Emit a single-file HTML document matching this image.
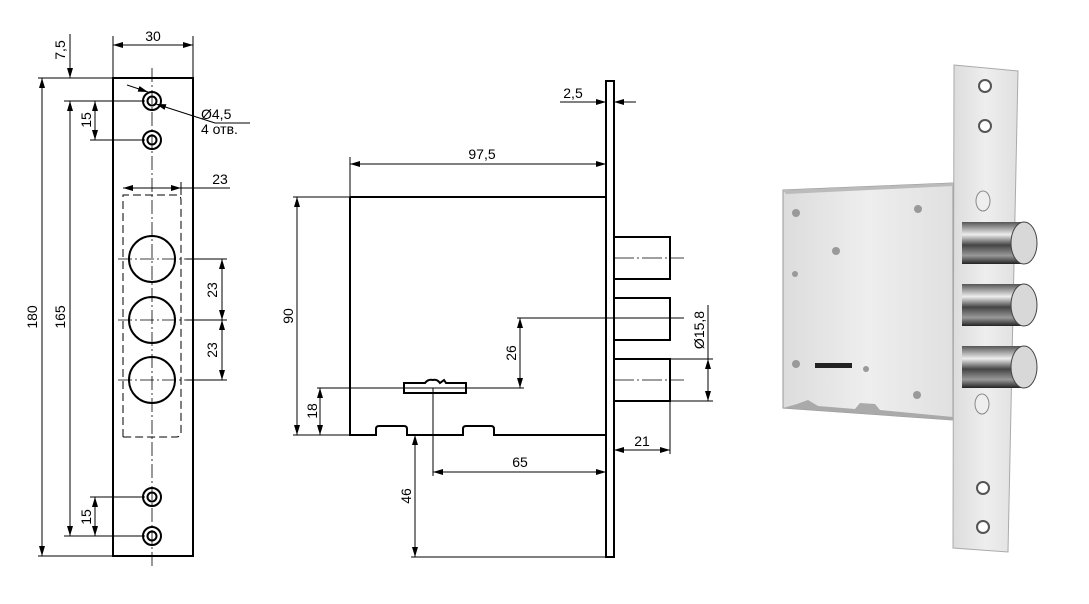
<!DOCTYPE html>
<html><head><meta charset="utf-8"><style>
html,body{margin:0;padding:0;background:#fff;}
svg{display:block;font-family:"Liberation Sans",sans-serif;}
</style></head><body>
<svg width="1089" height="604" viewBox="0 0 1089 604" xmlns="http://www.w3.org/2000/svg">
<defs>
<marker id="a" viewBox="0 0 10 6" refX="10" refY="3" markerWidth="10" markerHeight="6" orient="auto-start-reverse" markerUnits="userSpaceOnUse"><path d="M0,0 L10,3 L0,6 z" fill="#000"/></marker>
<linearGradient id="cyl" x1="0" y1="0" x2="0" y2="1"><stop offset="0" stop-color="#555"/><stop offset="0.3" stop-color="#eee"/><stop offset="0.55" stop-color="#444"/><stop offset="0.8" stop-color="#999"/><stop offset="1" stop-color="#222"/></linearGradient>
<linearGradient id="plate" x1="0" y1="0" x2="1" y2="0"><stop offset="0" stop-color="#dcdcdc"/><stop offset="0.5" stop-color="#eeeeee"/><stop offset="1" stop-color="#e0e0e0"/></linearGradient>
</defs>
<g stroke="#000" fill="none" stroke-width="1" font-size="13">
<rect x="113" y="78" width="80" height="478" stroke-width="2"/>
<line x1="152" y1="68" x2="152" y2="566" stroke-dasharray="14,3,2,3" stroke-width="0.8"/>
<g stroke-width="2"><circle cx="152" cy="101" r="9"/><circle cx="152" cy="101" r="4.5"/>
<circle cx="152" cy="140" r="9"/><circle cx="152" cy="140" r="4.5"/>
<circle cx="152" cy="497" r="9"/><circle cx="152" cy="497" r="4.5"/>
<circle cx="152" cy="536" r="9"/><circle cx="152" cy="536" r="4.5"/>
<circle cx="152" cy="259" r="23"/><circle cx="152" cy="320" r="23"/><circle cx="152" cy="380" r="23"/></g>
<path d="M123,437 V195 H176 Q181,195 181,200 V432 Q181,437 176,437 Z" stroke-dasharray="8,4"/>
<g stroke-dasharray="14,3,2,3" stroke-width="0.8"><line x1="118" y1="259" x2="186" y2="259"/><line x1="118" y1="320" x2="186" y2="320"/><line x1="118" y1="380" x2="186" y2="380"/></g>
<line x1="186" y1="259" x2="227" y2="259"/><line x1="186" y1="320" x2="227" y2="320"/><line x1="186" y1="380" x2="227" y2="380"/>
<line x1="222" y1="259" x2="222" y2="320" marker-start="url(#a)" marker-end="url(#a)"/>
<line x1="222" y1="320" x2="222" y2="380" marker-start="url(#a)" marker-end="url(#a)"/>
<line x1="181" y1="182" x2="181" y2="195"/>
<line x1="123" y1="188" x2="181" y2="188" marker-start="url(#a)" marker-end="url(#a)"/><line x1="181" y1="188" x2="230" y2="188"/>
<line x1="113" y1="36" x2="113" y2="78"/><line x1="193" y1="36" x2="193" y2="78"/>
<line x1="113" y1="45" x2="193" y2="45" marker-start="url(#a)" marker-end="url(#a)"/>
<line x1="38" y1="78" x2="113" y2="78"/><line x1="64" y1="101" x2="145" y2="101"/><line x1="90" y1="140" x2="145" y2="140"/>
<line x1="90" y1="497" x2="145" y2="497"/><line x1="64" y1="536" x2="145" y2="536"/><line x1="38" y1="556" x2="113" y2="556"/>
<line x1="42" y1="78" x2="42" y2="556" marker-start="url(#a)" marker-end="url(#a)"/>
<line x1="70" y1="101" x2="70" y2="536" marker-start="url(#a)" marker-end="url(#a)"/>
<line x1="70" y1="34" x2="70" y2="78" marker-end="url(#a)"/>
<line x1="95" y1="101" x2="95" y2="140" marker-start="url(#a)" marker-end="url(#a)"/>
<line x1="95" y1="497" x2="95" y2="536" marker-start="url(#a)" marker-end="url(#a)"/>
<line x1="127" y1="85" x2="148" y2="92" marker-end="url(#a)"/>
<line x1="156" y1="104" x2="215" y2="123" marker-start="url(#a)"/><line x1="215" y1="123" x2="250" y2="123"/>
<rect x="606" y="81" width="8" height="476" stroke-width="2"/>
<path d="M350,197 H606 M350,197 V435 H376 V429 Q376,426 379,426 H404 Q407,426 407,429 V435 H463 V429 Q463,426 466,426 H491 Q494,426 494,429 V435 H606" stroke-width="2"/>
<rect x="614" y="237" width="56" height="42" stroke-width="2"/>
<rect x="614" y="298" width="56" height="42" stroke-width="2"/>
<rect x="614" y="359" width="56" height="42" stroke-width="2"/>
<g stroke-dasharray="20,3,2,3" stroke-width="0.8"><line x1="614" y1="258" x2="684" y2="258"/><line x1="614" y1="380" x2="684" y2="380"/></g>
<line x1="517" y1="318" x2="684" y2="318"/>
<path d="M404,383 H425 Q428,379 433,380 Q437,379 440,383 L444,380 L446,383 H466 V393 H404 Z" stroke-width="2"/>
<line x1="317" y1="388" x2="524" y2="388"/>
<line x1="433" y1="388" x2="433" y2="476"/>
<line x1="350" y1="157" x2="350" y2="197"/>
<line x1="350" y1="164" x2="606" y2="164" marker-start="url(#a)" marker-end="url(#a)"/>
<line x1="560" y1="102" x2="606" y2="102" marker-end="url(#a)"/><line x1="614" y1="102" x2="636" y2="102" marker-start="url(#a)"/>
<line x1="293" y1="197" x2="350" y2="197"/><line x1="293" y1="435" x2="350" y2="435"/>
<line x1="297" y1="197" x2="297" y2="435" marker-start="url(#a)" marker-end="url(#a)"/>
<line x1="320" y1="388" x2="320" y2="435" marker-start="url(#a)" marker-end="url(#a)"/>
<line x1="520" y1="318" x2="520" y2="388" marker-start="url(#a)" marker-end="url(#a)"/>
<line x1="415" y1="435" x2="415" y2="557" marker-start="url(#a)" marker-end="url(#a)"/><line x1="411" y1="557" x2="606" y2="557"/>
<line x1="433" y1="472" x2="606" y2="472" marker-start="url(#a)" marker-end="url(#a)"/>
<line x1="670" y1="401" x2="670" y2="454"/>
<line x1="614" y1="450" x2="670" y2="450" marker-start="url(#a)" marker-end="url(#a)"/>
<line x1="670" y1="359" x2="713" y2="359"/><line x1="670" y1="401" x2="713" y2="401"/>
<line x1="708" y1="359" x2="708" y2="401" marker-start="url(#a)" marker-end="url(#a)"/><line x1="708" y1="305" x2="708" y2="359"/>
</g>
<g font-size="14" fill="#000">
<text x="153" y="41" text-anchor="middle">30</text>
<text x="220" y="184" text-anchor="middle">23</text>
<text x="201" y="119">Ø4,5</text><text x="201" y="134">4 отв.</text>
<text transform="translate(65,50) rotate(-90)" text-anchor="middle">7,5</text>
<text transform="translate(37,317) rotate(-90)" text-anchor="middle">180</text>
<text transform="translate(65,317) rotate(-90)" text-anchor="middle">165</text>
<text transform="translate(91,120) rotate(-90)" text-anchor="middle">15</text>
<text transform="translate(91,517) rotate(-90)" text-anchor="middle">15</text>
<text transform="translate(217,290) rotate(-90)" text-anchor="middle">23</text>
<text transform="translate(217,350) rotate(-90)" text-anchor="middle">23</text>
<text x="573" y="98" text-anchor="middle">2,5</text>
<text x="482" y="159" text-anchor="middle">97,5</text>
<text x="520" y="467" text-anchor="middle">65</text>
<text x="642" y="446" text-anchor="middle">21</text>
<text transform="translate(293,316) rotate(-90)" text-anchor="middle">90</text>
<text transform="translate(317,411) rotate(-90)" text-anchor="middle">18</text>
<text transform="translate(516,353) rotate(-90)" text-anchor="middle">26</text>
<text transform="translate(411,496) rotate(-90)" text-anchor="middle">46</text>
<text transform="translate(704,330) rotate(-90)" text-anchor="middle">Ø15,8</text>
</g>
<g>
<path d="M783,190 L953,183 L953,420 L783,408 Z" fill="url(#plate)" stroke="#999"/>
<path d="M783,190 L953,183 L953,186 L786,194 Z" fill="#bbb"/>
<path d="M797,404 L808,400 L818,406 L855,409 L860,403 L875,404 L880,410 L953,417 L953,420 L783,408 Z" fill="#aaa"/>
<path d="M954,65 L1018,71 L1008,552 L953,548 Z" fill="url(#plate)" stroke="#aaa"/>
<g fill="#999"><circle cx="796" cy="213" r="4"/><circle cx="918" cy="209" r="4"/><circle cx="836" cy="251" r="4"/><circle cx="795" cy="274" r="3"/><circle cx="796" cy="364" r="4"/><circle cx="866" cy="369" r="3"/><circle cx="917" cy="395" r="4"/></g>
<rect x="815" y="363" width="37" height="5" fill="#222"/>
<g fill="#fff" stroke="#555" stroke-width="2"><circle cx="985" cy="86" r="6"/><circle cx="985" cy="126" r="6"/><circle cx="983" cy="488" r="6"/><circle cx="983" cy="527" r="6"/></g>
<g fill="#eee" stroke="#888"><ellipse cx="983" cy="201" rx="7" ry="10"/><ellipse cx="982" cy="404" rx="7" ry="10"/></g>
<rect x="962" y="222" width="62" height="42" fill="url(#cyl)"/><ellipse cx="1024" cy="243" rx="13" ry="21" fill="#d8d8d8" stroke="#444"/>
<rect x="962" y="284" width="62" height="42" fill="url(#cyl)"/><ellipse cx="1024" cy="305" rx="13" ry="21" fill="#d8d8d8" stroke="#444"/>
<rect x="962" y="346" width="62" height="42" fill="url(#cyl)"/><ellipse cx="1024" cy="367" rx="13" ry="21" fill="#d8d8d8" stroke="#444"/>
</g>
</svg>
</body></html>
